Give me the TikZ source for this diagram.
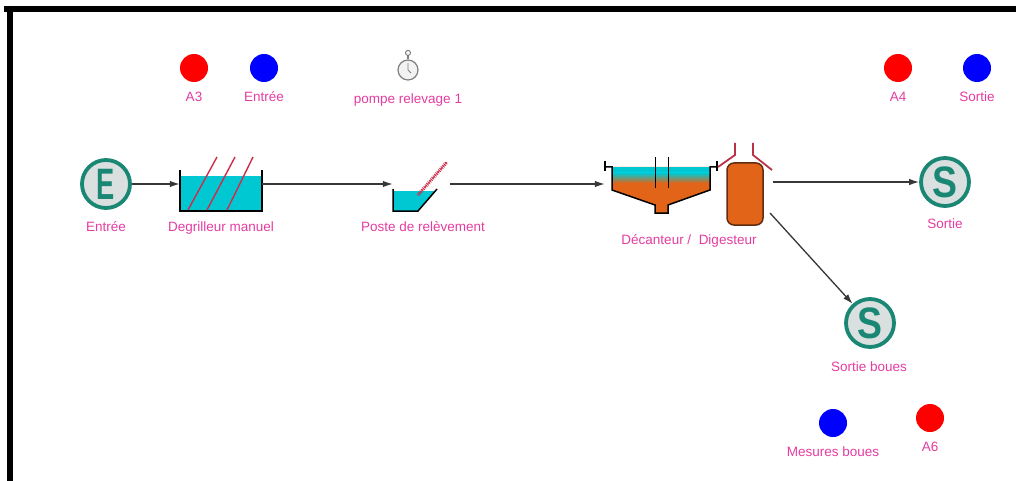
\documentclass[tikz,border=0pt]{standalone}
\usepackage{fontspec}
\setmainfont{Liberation Sans}
\usetikzlibrary{arrows.meta, positioning, calc}

\definecolor{portgreen}{RGB}{25,135,115}
\definecolor{portfill}{RGB}{218,224,224}
\definecolor{lblpink}{RGB}{228,60,160}
\definecolor{water}{RGB}{0,200,210}
\definecolor{sludge}{RGB}{225,100,25}
\definecolor{sludgedark}{RGB}{95,45,15}
\definecolor{rake}{RGB}{205,45,75}
\definecolor{pipered}{RGB}{185,50,70}
\definecolor{flow}{RGB}{55,55,55}

\begin{document}
\begin{tikzpicture}[
    x=1pt, y=-1pt,
    port/.style={circle, draw=portgreen, line width=3.8pt, fill=portfill, minimum size=48pt, inner sep=0pt, text=portgreen, font=\fontsize{44}{44}\selectfont\bfseries},
    unit/.style={rectangle, inner sep=0pt},
    lbl/.style={text=lblpink, font=\fontsize{13.5}{15}\selectfont, inner sep=0pt, anchor=base},
    dot/.style={circle, inner sep=0pt, minimum size=28pt},
    arrow/.style={-{Latex[length=10pt,width=6.5pt]}, draw=flow, line width=1.3pt},
    pipe/.style={draw=pipered, line width=1.8pt}
  ]
    \useasboundingbox (0,0) rectangle (1016,481);

    % frame
    \fill (4,6) rectangle (1016,12);
    \fill (7,6) rectangle (13,481);

    % measure points
    \node[dot, fill=red] (a3) at (194,68) {};
    \node[lbl] (a3Lbl) at (194,102) {A3};
    \node[dot, fill=blue] (mesEntree) at (264,68) {};
    \node[lbl] (mesEntreeLbl) at (264,102) {Entrée};
    \node[dot, fill=red] (a4) at (898,68) {};
    \node[lbl] (a4Lbl) at (898,102) {A4};
    \node[dot, fill=blue] (mesSortie) at (977,68) {};
    \node[lbl] (mesSortieLbl) at (977,102) {Sortie};
    \node[dot, fill=blue] (mesBoues) at (833,423) {};
    \node[lbl] (mesBouesLbl) at (833,456) {Mesures boues};
    \node[dot, fill=red] (a6) at (930,418) {};
    \node[lbl] (a6Lbl) at (930,451) {A6};

    % pump timer
    \node[circle, draw=gray, fill=gray!10, line width=1.2pt, minimum size=20pt, inner sep=0pt] (pompe) at (408,70) {};
    \draw[gray, line width=1.2pt] (pompe.north) -- ++(0,-4);
    \draw[gray, line width=1pt] ([yshift=6.5pt]pompe.north) circle[radius=2.5pt];
    \draw[gray, line width=0.8pt] (pompe.center) -- ++(0,-7) (pompe.center) -- ++(3,3);
    \node[lbl] (pompeLbl) at (408,104) {pompe relevage 1};

    % inlet / outlets
    \node[port] (entree) at (106,184) {\scalebox{0.62}[1]{E}};
    \node[lbl] (entreeLbl) at (106,231) {Entrée};
    \node[port] (sortie) at (945,182) {\scalebox{0.85}[1]{S}};
    \node[lbl] (sortieLbl) at (945,228) {Sortie};
    \node[port] (boues) at (870,323) {\scalebox{0.85}[1]{S}};
    \node[lbl] (bouesLbl) at (869,371) {Sortie boues};

    % process units
    \node[unit, minimum width=82pt, minimum height=40pt] (degr) at (221,191) {};
    \node[lbl] (degrLbl) at (221,231) {Degrilleur manuel};
    \node[unit, minimum width=57pt, minimum height=22pt] (poste) at (421.5,200) {};
    \node[lbl] (posteLbl) at (423,231) {Poste de relèvement};
    \node[unit, minimum width=112pt, minimum height=56pt] (decant) at (661,186) {};
    \node[draw=sludgedark, fill=sludge, rounded corners=7pt, line width=1.5pt, minimum width=36pt, minimum height=62pt] (digest) at (745,194) {};
    \node[lbl] (decantLbl) at (689,244) {Décanteur /\ \ Digesteur};
    \coordinate (digestOut) at (770,213);

    % screen tank
    \begin{scope}[shift={(degr.center)}]
      \fill[water] (-41,-15) rectangle (41,20);
      \foreach \b/\t in {-33/-4, -14/14, 6/32}
        \draw[rake, line width=1.4pt] (\b,19) -- (\t,-34);
      \draw[line width=1.5pt] (-41,-21) -- (-41,20) -- (41,20) -- (41,-21);
    \end{scope}

    % lifting station
    \begin{scope}[shift={(poste.center)}]
      \fill[water] (-28.5,-9) -- (-28.5,11) -- (-3.5,11) -- (13.8,-9) -- cycle;
      \draw[line width=1.5pt] (-28.5,-11) -- (-28.5,11) -- (-3.5,11) -- (15.5,-11);
      \draw[rake, line width=0.7pt] (-3.5,-5) -- (25.5,-38);
      \draw[rake, line width=3.5pt, dash pattern=on 0.8pt off 1.2pt] (-3.5,-5) -- (25.5,-38);
    \end{scope}

    % settler
    \begin{scope}[shift={(decant.center)}]
      \fill[sludge] (-49,-19) -- (-49,4) -- (-6,19) -- (-6,27) -- (7,27) -- (7,19) -- (49,4) -- (49,-19) -- cycle;
      \fill[water] (-49,-19) rectangle (49,-13);
      \shade[top color=water, bottom color=sludge] (-49,-13) rectangle (49,-3);
      \draw[line width=1.5pt] (-56,-19) -- (-49,-19) -- (-49,4) -- (-6,19) -- (-6,27) -- (7,27) -- (7,19) -- (49,4) -- (49,-19) -- (56,-19);
      \draw[line width=1.2pt] (-56,-25) -- (-56,-15) (56,-25) -- (56,-15);
      \draw[line width=1pt] (-6,-29) -- (-6,2) (7,-29) -- (7,2);
    \end{scope}

    % gas pipes over the digester
    \draw[pipe] (718,167) -- (735,155) -- (735,143);
    \draw[pipe] (753,143) -- (753,155) -- (772,170);

    % flow lines
    \draw[arrow] (entree) -- (entree -| degr.west);
    \draw[arrow] (degr.east |- entree) -- (entree -| poste.west);
    \draw[arrow] (poste.east |- entree) -- (entree -| decant.west);
    \draw[arrow] ([xshift=9pt]digest.east |- sortie) -- (sortie);
    \draw[arrow] (digestOut) -- (boues);
\end{tikzpicture}
\end{document}
